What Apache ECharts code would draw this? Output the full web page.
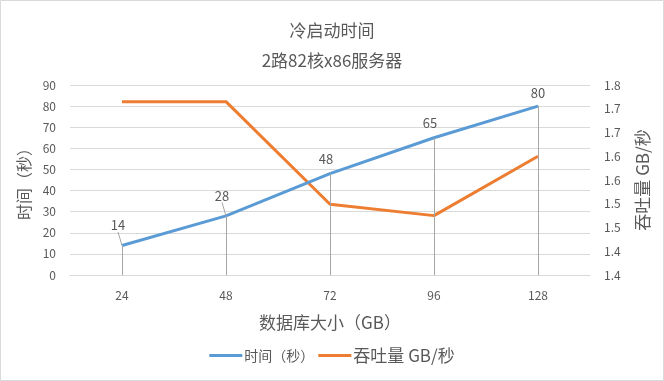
<!DOCTYPE html>
<html><head><meta charset="utf-8">
<script src="https://cdn.jsdelivr.net/npm/echarts@6/dist/echarts.min.js"></script>
<style>html,body{margin:0;padding:0;background:#fff}#c{width:664px;height:381px}</style>
</head><body><div id="c"></div>
<script>
const categories = ['24', '48', '72', '96', '128'];
const timeSeconds = [14, 28, 48, 65, 80];
const throughput = [1.765, 1.765, 1.549, 1.525, 1.65];
const rightTickLabels = ['1.4', '1.4', '1.5', '1.5', '1.6', '1.6', '1.7', '1.7', '1.8'];
const titleText = '冷启动时间';
const subtitleText = '2路82核x86服务器';
const xName = '数据库大小（GB）';
const yLeftName = '时间（秒）';
const yRightName = '吞吐量 GB/秒';

const FONT = '"Noto Sans CJK SC", sans-serif';
const chart = echarts.init(document.getElementById('c'));
const dropLines = timeSeconds.map((v, i) => [{coord: [i, 0]}, {coord: [i, v]}]);
const labelShift = [[-4, -5], [-4, -5], [-4, 0], [-4, 0], [0, 2]];
const timeData = timeSeconds.map((v, i) => ({
  value: v,
  labelLine: {show: i < 2}
}));
chart.setOption({
  animation: false,
  textStyle: {fontFamily: FONT},
  graphic: [{type: 'rect', shape: {x: 0.5, y: 0.5, width: 663, height: 380},
    style: {fill: 'none', stroke: '#d9d9d9', lineWidth: 1}, silent: true}],
  title: [
    {text: titleText, left: 'center', top: 17, textStyle: {fontSize: 17, fontWeight: 'normal', color: '#595959', fontFamily: FONT}},
    {text: subtitleText, left: 'center', top: 47, textStyle: {fontSize: 17, fontWeight: 'normal', color: '#595959', fontFamily: FONT}}
  ],
  legend: {
    bottom: 12, left: 'center', itemGap: 4, itemWidth: 33, itemHeight: 3, icon: 'rect',
    textStyle: {fontSize: 14, color: '#595959', fontFamily: FONT, padding: [0, 0, 0, -3]},
    data: [
      {name: yLeftName, textStyle: {fontSize: 14}},
      {name: yRightName, textStyle: {fontSize: 17}}
    ]
  },
  grid: {left: 70, right: 74, top: 85, bottom: 106, containLabel: false},
  xAxis: {
    type: 'category', data: categories, boundaryGap: true,
    axisLine: {lineStyle: {color: '#d9d9d9'}}, axisTick: {show: false},
    axisLabel: {color: '#595959', fontSize: 12, margin: 14},
    name: xName, nameLocation: 'middle', nameGap: 39,
    nameTextStyle: {fontSize: 17, color: '#595959', fontFamily: FONT}
  },
  yAxis: [
    {type: 'value', min: 0, max: 90, interval: 10,
     axisLine: {show: false}, axisTick: {show: false},
     splitLine: {lineStyle: {color: '#d9d9d9'}},
     axisLabel: {color: '#595959', fontSize: 12, margin: 14},
     name: yLeftName, nameLocation: 'middle', nameGap: 33, nameRotate: 90,
     nameTextStyle: {fontSize: 16, color: '#595959', fontFamily: FONT}},
    {type: 'value', min: 1.4, max: 1.8, interval: 0.05,
     axisLine: {show: false}, axisTick: {show: false}, splitLine: {show: false},
     axisLabel: {color: '#595959', fontSize: 12, margin: 14,
       formatter: v => rightTickLabels[Math.round((v - 1.4) / 0.05)]},
     name: yRightName, nameLocation: 'middle', nameGap: 44, nameRotate: 90,
     nameTextStyle: {fontSize: 17, color: '#595959', fontFamily: FONT, padding: [0, 0, 20, 0]}}
  ],
  series: [
    {name: yLeftName, type: 'line', yAxisIndex: 0, data: timeData, showSymbol: true, symbol: 'circle', symbolSize: 1,
     lineStyle: {width: 3, color: '#5B9BD5'}, itemStyle: {color: '#5B9BD5'}, z: 3,
     label: {show: true, position: 'top', distance: 8, color: '#595959', fontSize: 13},
     labelLayout: p => ({dx: labelShift[p.dataIndex][0], dy: labelShift[p.dataIndex][1]}),
     labelLine: {show: false, lineStyle: {color: '#a6a6a6', width: 1}},
     markLine: {silent: true, symbol: 'none', label: {show: false},
       lineStyle: {color: '#a6a6a6', width: 1, type: 'solid'}, data: dropLines}},
    {name: yRightName, type: 'line', yAxisIndex: 1, data: throughput, showSymbol: false, symbol: 'none',
     lineStyle: {width: 3, color: '#ED7D31'}, itemStyle: {color: '#ED7D31'}, z: 2}
  ]
});
</script></body></html>
